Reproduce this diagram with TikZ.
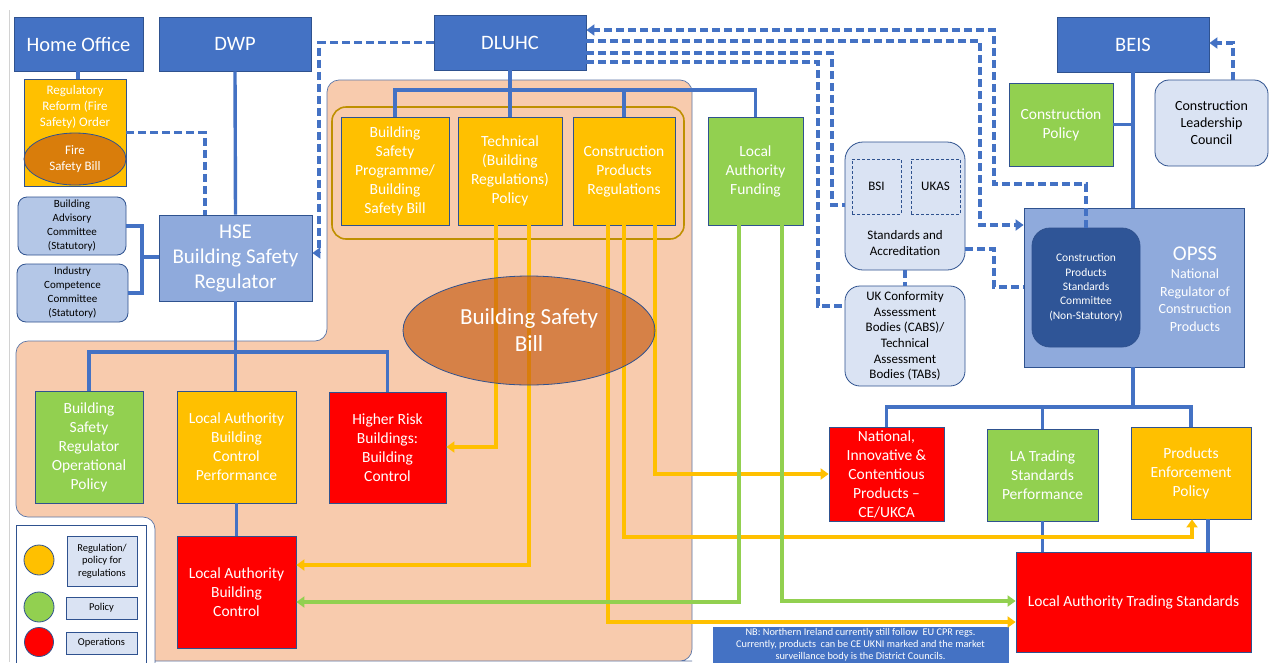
\documentclass[tikz,border=0pt]{standalone}
\usepackage{fontspec}
\setmainfont{Carlito}
\usetikzlibrary{arrows.meta,shapes.geometric}
\definecolor{dkb}{HTML}{4472C4}
\definecolor{bdr}{HTML}{2F528F}
\definecolor{midb}{HTML}{8FAADC}
\definecolor{ltb}{HTML}{DAE3F3}
\definecolor{ltbb}{HTML}{B4C7E7}
\definecolor{navy}{HTML}{2F5597}
\definecolor{ylw}{HTML}{FFC000}
\definecolor{grn}{HTML}{92D050}
\definecolor{rd}{HTML}{FF0000}
\definecolor{peach}{HTML}{F8CBAD}
\definecolor{gold}{HTML}{BF9000}
\definecolor{burnt}{HTML}{C55A11}
\definecolor{pedge}{HTML}{5B76A8}
\begin{document}
\begin{tikzpicture}[x=1pt,y=-1pt,
  fs/.style 2 args={font=\fontsize{#1}{#2}\selectfont},
  box/.style={draw=bdr,line width=0.8pt,align=center,inner sep=1pt,text=white},
  rbox/.style={box,rounded corners=#1,text=black},
  rbox/.default=10pt,
  bl/.style={draw=dkb,line width=3.4pt},
  dsh/.style={draw=dkb,line width=3.2pt,dash pattern=on 8pt off 4pt},
  yl/.style={draw=ylw,line width=3.4pt},
  gr/.style={draw=grn,line width=3.4pt},
  arr/.style={-{Triangle[length=8pt,width=11pt]}},
  bill/.style={ellipse,draw=bdr,line width=0.8pt,fill=burnt,fill opacity=0.65,text opacity=1,text=white,inner sep=0pt,align=center},
  txt/.style={align=center,inner sep=0pt}
]
\useasboundingbox (0,0) rectangle (1271,662);
\fill[white] (0,0) rectangle (1271,662);
\draw[gray!35,line width=1pt] (9.5,10) -- (9.5,662);

% peach region
\draw[fill=peach,draw=pedge,line width=0.7pt,rounded corners=12pt]
  (155,664) -- (155,517) -- (16,517) -- (16,341) -- (327,341) -- (327,80) -- (692,80) -- (692,661) -- (680,661) -- (155,661);
\draw[gold,line width=1.6pt,rounded corners=14pt] (332,107) rectangle (684,239);

% top row
\node[box,fill=dkb,minimum width=129pt,minimum height=54pt,fs={20.5}{24}] (ho) at (78.5,44) {Home Office};
\node[box,fill=dkb,minimum width=152pt,minimum height=54pt,fs={20.5}{24}] (dwp) at (235,44) {DWP};
\node[box,fill=dkb,minimum width=152pt,minimum height=55pt,fs={20.5}{24}] (dluhc) at (510,42.5) {DLUHC};
\node[box,fill=dkb,minimum width=152pt,minimum height=55pt,fs={20.5}{24}] (beis) at (1133,44.5) {BEIS};

% home office side
\node[box,fill=ylw,minimum width=102pt,minimum height=107pt] (regbox) at (75,132.5) {};
\node[txt,text=white,fs={13}{16}] (regtxt) at (75,107) {Regulatory\\Reform (Fire\\Safety) Order};
\node[bill,minimum width=102pt,minimum height=52pt,fs={13}{16}] (fire) at (75,159) {Fire\\Safety Bill};
\node[rbox=9pt,fill=ltbb,minimum width=108pt,minimum height=58pt,fs={11}{14}] (bac) at (72,226) {Building\\Advisory\\Committee\\(Statutory)};
\node[rbox=9pt,fill=ltbb,minimum width=111pt,minimum height=58pt,fs={11}{14}] (icc) at (72.5,293) {Industry\\Competence\\Committee\\(Statutory)};
\node[box,fill=midb,minimum width=153pt,minimum height=86pt,fs={21}{25}] (hse) at (235.5,258) {HSE\\Building Safety\\Regulator};

% DLUHC children
\node[box,fill=ylw,minimum width=108pt,minimum height=108pt,fs={15.5}{19}] (bsp) at (395,171) {Building\\Safety\\Programme/\\Building\\Safety Bill};
\node[box,fill=ylw,minimum width=104pt,minimum height=108pt,fs={15.5}{19}] (tech) at (510,171) {Technical\\(Building\\Regulations)\\Policy};
\node[box,fill=ylw,minimum width=102pt,minimum height=108pt,fs={15.5}{19}] (cpr) at (624,171) {Construction\\Products\\Regulations};
\node[box,fill=grn,minimum width=95pt,minimum height=108pt,fs={15.5}{19}] (laf) at (755.5,171) {Local\\Authority\\Funding};

% standards
\node[rbox=18pt,fill=ltb,minimum width=120pt,minimum height=128pt] (sa) at (905,206) {};
\node[draw=bdr,line width=0.8pt,dash pattern=on 3pt off 2pt,minimum width=49pt,minimum height=55pt,fs={13}{16}] (bsi) at (876.5,186.5) {BSI};
\node[draw=bdr,line width=0.8pt,dash pattern=on 3pt off 2pt,minimum width=49pt,minimum height=55pt,fs={13}{16}] (ukas) at (935.5,186.5) {UKAS};
\node[txt,fs={13}{16.5}] (satxt) at (905,243) {Standards and\\Accreditation};
\node[rbox=15pt,fill=ltb,minimum width=120pt,minimum height=100pt,fs={13}{15.7}] (cabs) at (905,336) {UK Conformity\\Assessment\\Bodies (CABS)/\\Technical\\Assessment\\Bodies (TABs)};

% BEIS side
\node[box,fill=grn,minimum width=104pt,minimum height=83pt,fs={15.5}{19}] (cpol) at (1061,124.5) {Construction\\Policy};
\node[rbox=14pt,fill=ltb,minimum width=113pt,minimum height=86pt,fs={14}{17}] (clc) at (1211.5,123) {Construction\\Leadership\\Council};
\node[box,fill=midb,minimum width=220pt,minimum height=159pt] (opss) at (1134,287.5) {};
\node[box,rounded corners=18pt,fill=navy,minimum width=108pt,minimum height=119pt,fs={11.5}{14.3}] (cpsc) at (1086,287.5) {Construction\\Products\\Standards\\Committee\\(Non-Statutory)};
\node[txt,text=white,fs={14}{17.5}] (opsstxt) at (1195,289) {{\fontsize{21}{24}\selectfont OPSS}\\[1pt]National\\Regulator of\\Construction\\Products};

% HSE children
\node[box,fill=grn,minimum width=108pt,minimum height=112pt,fs={15.5}{19}] (bsrop) at (89,447) {Building\\Safety\\Regulator\\Operational\\Policy};
\node[box,fill=ylw,minimum width=119pt,minimum height=112pt,fs={15.5}{19}] (labcp) at (236.5,447) {Local Authority\\Building\\Control\\Performance};
\node[box,fill=rd,minimum width=117pt,minimum height=111pt,fs={15.5}{19}] (hrb) at (387.5,447.5) {Higher Risk\\Buildings:\\Building\\Control};
\node[box,fill=rd,minimum width=119pt,minimum height=112pt,fs={15.5}{19}] (labc) at (236.5,592) {Local Authority\\Building\\Control};

% OPSS children
\node[box,fill=rd,minimum width=115pt,minimum height=94pt,fs={15.5}{19}] (natl) at (886.5,474) {National,\\Innovative \&\\Contentious\\Products --\\CE/UKCA};
\node[box,fill=grn,minimum width=111pt,minimum height=92pt,fs={15.5}{19}] (latsp) at (1042.5,475) {LA Trading\\Standards\\Performance};
\node[box,fill=ylw,minimum width=120pt,minimum height=92pt,fs={15.5}{19}] (pep) at (1191,473) {Products\\Enforcement\\Policy};
\node[box,fill=rd,minimum width=235pt,minimum height=100pt,fs={15.5}{19}] (lats) at (1133.5,602) {Local Authority Trading Standards};
\node[box,fill=dkb,draw=dkb,minimum width=295pt,minimum height=35pt,inner sep=0pt,fs={10.3}{12}] (nb) at (860.5,644.5) {NB: Northern Ireland currently still follow\ \ EU CPR regs.\\Currently, products\ \ can be CE UKNI marked and the market\\surveillance body is the District Councils.};

% legend
\node[draw=bdr,line width=0.8pt,fill=white,minimum width=130pt,minimum height=140pt,inner sep=0pt] (leg) at (81,595) {};
\node[circle,draw=bdr,line width=0.8pt,fill=ylw,minimum size=30pt,inner sep=0pt] (cy) at (39,560) {};
\node[circle,draw=bdr,line width=0.8pt,fill=grn,minimum size=30pt,inner sep=0pt] (cg) at (39,607) {};
\node[circle,draw=bdr,line width=0.8pt,fill=rd,minimum size=29pt,inner sep=0pt] (cr) at (39,642) {};
\node[box,fill=ltb,text=black,minimum width=70pt,minimum height=50pt,fs={10.5}{12.5}] (lreg) at (102,561) {Regulation/\\policy for\\regulations};
\node[box,fill=ltb,text=black,minimum width=71pt,minimum height=22pt,fs={10.5}{12.5}] (lpol) at (101.5,608) {Policy};
\node[box,fill=ltb,text=black,minimum width=71pt,minimum height=22pt,fs={10.5}{12.5}] (lops) at (101.5,643) {Operations};

% ---- solid blue connectors
\draw[bl] (ho.south -| 78,0) -- (regbox.north -| 78,0);
\draw[bl] (dwp.south) -- (hse.north);
\coordinate (cj) at (142,257);
\draw[bl] (bac.east) -| (cj);
\draw[bl] (icc.east) -| (cj);
\draw[bl] (cj) -- (hse.west |- cj);
\coordinate (db) at (510,90);
\draw[bl] (dluhc.south) -- (db);
\draw[bl] (bsp.north) |- (db) -| (laf.north);
\draw[bl] (tech.north) -- (tech.north |- db);
\draw[bl] (cpr.north) -- (cpr.north |- db);
\coordinate (hb) at (235.5,352);
\draw[bl] (hse.south) -- (hse.south |- labcp.north);
\draw[bl] (bsrop.north) |- (hb) -| (hrb.north);
\draw[bl] (labcp.south) -- (labc.north);
\draw[bl] (beis.south) -- (beis.south |- opss.north);
\draw[bl] (cpol.east) -- (cpol.east -| beis.south);
\coordinate (ob) at (1133,407);
\draw[bl] (opss.south -| ob) -- (ob);
\draw[bl] (natl.north) |- (ob) -| (pep.north);
\draw[bl] (latsp.north) -- (latsp.north |- ob);
\draw[bl] (latsp.south) -- (latsp.south |- lats.north);
\coordinate (px) at (1208,0);
\draw[bl] (pep.south -| px) -- (lats.north -| px);

% ---- dashed connectors
\coordinate (rg1) at (205,132.5);
\draw[dsh] (regbox.east) -- (rg1) -- (rg1 |- hse.north);
\coordinate (dl1) at (319,42.5);
\coordinate (dl2) at (319,253);
\draw[dsh,arr] (dluhc.west) -- (dl1) -- (dl2) -- (hse.east |- dl2);
\coordinate (t1) at (994,30);
\coordinate (t2) at (994,184);
\coordinate (t3) at (1086,184);
\draw[dsh,arr] (cpsc.north -| t3) -- (t3) -- (t2) -- (t1) -- (dluhc.east |- t1);
\coordinate (s1) at (980,41);
\coordinate (s2) at (980,225);
\draw[dsh,arr] (dluhc.east |- s1) -- (s1) -- (s2) -- (opss.west |- s2);
\coordinate (u1) at (832,53);
\coordinate (u2) at (832,205);
\draw[dsh] (dluhc.east |- u1) -- (u1) -- (u2) -- (sa.west |- u2);
\coordinate (v1) at (818,62);
\coordinate (v2) at (818,306);
\draw[dsh] (dluhc.east |- v1) -- (v1) -- (v2) -- (cabs.west |- v2);
\coordinate (sao1) at (994,249);
\coordinate (sao2) at (994,287);
\draw[dsh] (sa.east |- sao1) -- (sao1) -- (sao2) -- (opss.west |- sao2);
\draw[dsh] (sa.south) -- (cabs.north);
\coordinate (cl1) at (1233,43);
\draw[dsh,arr] (clc.north -| cl1) -- (cl1) -- (beis.east |- cl1);

% ---- yellow connectors
\coordinate (ty1) at (496,447);
\draw[yl,arr] (tech.south -| ty1) -- (ty1) -- (hrb.east |- ty1);
\coordinate (ty2) at (529,565);
\draw[yl,arr] (tech.south -| ty2) -- (ty2) -- (labc.east |- ty2);
\coordinate (cy1) at (608,622);
\draw[yl,arr] (cpr.south -| cy1) -- (cy1) -- (lats.west |- cy1);
\coordinate (cy2) at (624,537);
\coordinate (cy3) at (1192,537);
\draw[yl,arr] (cpr.south -| cy2) -- (cy2) -- (cy3) -- (pep.south -| cy3);
\coordinate (cy4) at (655,474);
\draw[yl,arr] (cpr.south -| cy4) -- (cy4) -- (natl.west |- cy4);

% ---- green connectors
\coordinate (g1) at (739,602);
\draw[gr,arr] (laf.south -| g1) -- (g1) -- (labc.east |- g1);
\coordinate (g2) at (782,601);
\draw[gr,arr] (laf.south -| g2) -- (g2) -- (lats.west |- g2);

% Building Safety Bill (semi-transparent, above the lines)
\node[bill,minimum width=252pt,minimum height=109pt,fs={23}{27}] (bsb) at (529,330.5) {Building Safety\\Bill};
\end{tikzpicture}
\end{document}
